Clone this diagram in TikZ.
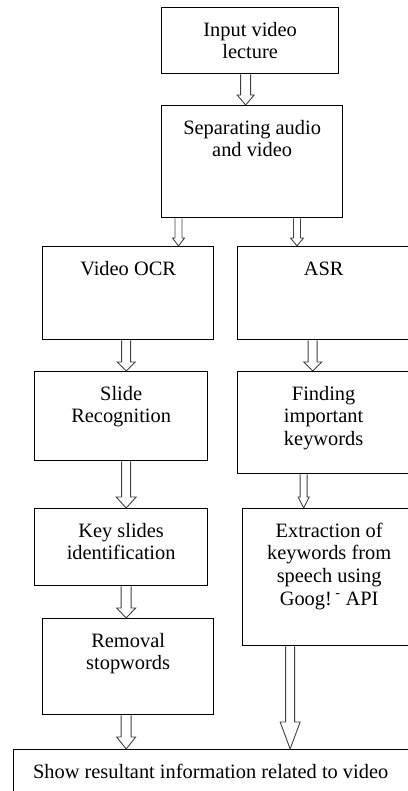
\documentclass[tikz,border=0pt]{standalone}
\usepackage{fontspec}
\setmainfont{Liberation Serif}
\usetikzlibrary{calc,backgrounds}

\tikzset{
  box/.style={draw=black, line width=1.3pt, rectangle, inner sep=0pt, anchor=north west},
  txt/.style={font=\fontsize{20.4}{22.6}\selectfont, align=center, inner sep=0pt, anchor=north, yshift=-13.2pt},
  % hollow block arrow: shaft width, head width, head length
  harrow/.style n args={3}{draw=black!75, fill=white, line width=0.9pt, line join=miter,
    to path={let \p1=(\tikztostart), \p2=(\tikztotarget) in
      (\x1-0.5*#1pt,\y1) -- (\x1-0.5*#1pt,\y2+#3pt) -- (\x1-0.5*#2pt,\y2+#3pt) -- (\x1,\y2)
      -- (\x1+0.5*#2pt,\y2+#3pt) -- (\x1+0.5*#1pt,\y2+#3pt) -- (\x1+0.5*#1pt,\y1)}}
}

\begin{document}
\begin{tikzpicture}[x=1pt, y=-1pt]
\useasboundingbox (0,0) rectangle (407,791);

% boxes
\node[box, minimum width=177pt, minimum height=66pt]  (b1)  at (161,7)   {};
\node[box, minimum width=181pt, minimum height=112pt] (b2)  at (161,105) {};
\node[box, minimum width=171pt, minimum height=93pt]  (b3)  at (42,246)  {};
\node[box, minimum width=172pt, minimum height=93pt]  (b4)  at (237,246) {};
\node[box, minimum width=173pt, minimum height=89pt]  (b5)  at (34,371)  {};
\node[box, minimum width=172pt, minimum height=102pt] (b6)  at (237,371) {};
\node[box, minimum width=173pt, minimum height=77pt]  (b7)  at (34,508)  {};
\node[box, minimum width=173pt, minimum height=137pt] (b8)  at (242,508) {};
\node[box, minimum width=171pt, minimum height=96pt]  (b9)  at (42,618)  {};
\node[box, minimum width=396pt, minimum height=60pt]  (b10) at (13,749)  {};

% labels
\node[txt] (t1)  at (b1.north)  {\strut Input video\\lecture};
\node[txt] (t2)  at (b2.north)  {\strut Separating audio\\and video};
\node[txt] (t3)  at (b3.north)  {\strut Video OCR};
\node[txt] (t4)  at (b4.north)  {\strut ASR};
\node[txt] (t5)  at (b5.north)  {\strut Slide\\Recognition};
\node[txt] (t6)  at (b6.north)  {\strut Finding\\important\\keywords};
\node[txt] (t7)  at (b7.north)  {\strut Key slides\\identification};
\node[txt] (t8)  at (b8.north)  {\strut Extraction of\\keywords from\\speech using\\Goog!\,\textsuperscript{-} API};
\node[txt] (t9)  at (b9.north)  {\strut Removal\\stopwords};
\node[txt] (t10) at ([xshift=-1pt]b10.north) {\strut Show resultant information related to video};

% arrow start points
\coordinate (a1)  at ([xshift=-4.5pt]b1.south);
\coordinate (a2)  at ([xshift=17.5pt]b2.south west);
\coordinate (a3)  at ([xshift=136pt]b2.south west);
\coordinate (a4)  at ([xshift=-2pt]b3.south);
\coordinate (a5)  at ([xshift=-11pt]b4.south);
\coordinate (a6)  at ([xshift=5pt]b5.south);
\coordinate (a7)  at ([xshift=-20pt]b6.south);
\coordinate (a8)  at ([xshift=5pt]b7.south);
\coordinate (a9)  at ([xshift=-2pt]b9.south);
\coordinate (a10) at ([xshift=-39pt]b8.south);

\begin{pgfonlayer}{background}
\draw[harrow={10}{17}{10}] (a1)  to (a1 |- b2.north);
\draw[harrow={7}{12}{8}]   (a2)  to (a2 |- b3.north);
\draw[harrow={7}{13}{8}]   (a3)  to (a3 |- b4.north);
\draw[harrow={9}{18}{9}]   (a4)  to (a4 |- b5.north);
\draw[harrow={9}{18}{9}]   (a5)  to (a5 |- b6.north);
\draw[harrow={9}{20}{11}]  (a6)  to (a6 |- b7.north);
\draw[harrow={7}{11}{11}]  (a7)  to (a7 |- b8.north);
\draw[harrow={10}{19}{10}] (a8)  to (a8 |- b9.north);
\draw[harrow={10}{19}{12}] (a9)  to (a9 |- b10.north);
\draw[harrow={9}{20}{27}]  (a10) to (a10 |- b10.north);
\end{pgfonlayer}
\end{tikzpicture}
\end{document}
